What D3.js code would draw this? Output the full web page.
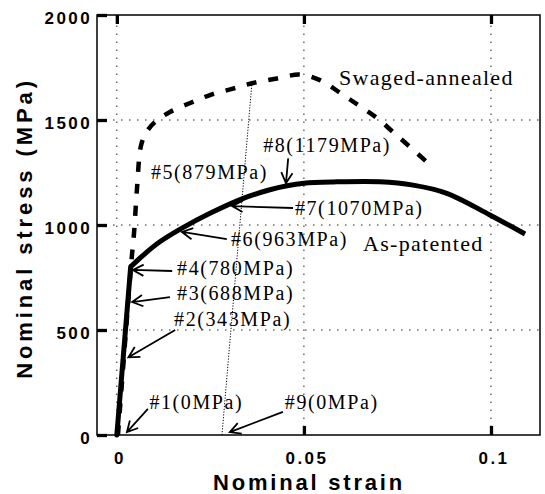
<!DOCTYPE html>
<html>
<head>
<meta charset="utf-8">
<script src="https://cdn.jsdelivr.net/npm/d3@7"></script>
<style>
    body { margin: 0; background: #fff; }
    svg { display: block; }
    .axis .tick text { font-family: "Liberation Sans", Arial, sans-serif; font-weight: bold; font-size: 17px; letter-spacing: 2.4px; fill: #000; }
    .axis-title { font-family: "Liberation Sans", Arial, sans-serif; font-weight: bold; font-size: 22px; fill: #000; }
    .note { font-family: "Liberation Serif", "Times New Roman", serif; font-size: 20px; letter-spacing: 1.6px; fill: #000; }
    .curve-name { font-family: "Liberation Serif", "Times New Roman", serif; font-size: 22px; letter-spacing: 1.3px; fill: #000; }
</style>
</head>
<body>
<svg id="chart" width="545" height="494"></svg>
<script>
// As-patented (solid) curve, first two points = elastic part
const patentedStrain = [0, 0.0037, 0.0071, 0.0115, 0.0173, 0.0249, 0.0338, 0.0409, 0.0455, 0.0500, 0.0578, 0.0703, 0.0792, 0.0882, 0.0997, 0.1091];
const patentedStress = [0, 801, 857, 920, 984, 1056, 1127, 1168, 1187, 1199, 1205, 1206, 1190, 1151, 1048, 957];

// Swaged-annealed (dashed) curve
const swagedStrain = [0.0003, 0.0040, 0.0046, 0.0054, 0.0065, 0.0080, 0.0105, 0.0142, 0.0196, 0.0249, 0.0308, 0.0364, 0.0428, 0.0490, 0.0543, 0.0597, 0.0645, 0.0695, 0.0738, 0.0784, 0.0837];
const swagedStress = [0, 848, 962, 1176, 1381, 1445, 1495, 1538, 1581, 1619, 1648, 1676, 1698, 1716, 1690, 1629, 1571, 1510, 1443, 1371, 1286];

// elastic unloading line down to #9
const unloadStrain = [0.0281, 0.0361];
const unloadStress = [0, 1676];

const xTicks = [0, 0.05, 0.1];
const xTickLabels = ["0", "0.05", "0.1"];
const yTicks = [0, 500, 1000, 1500, 2000];
const yTickLabels = ["0", "500", "1000", "1500", "2000"];

// annotations (anchored in strain / stress units)
const noteText = ["#1(0MPa)", "#2(343MPa)", "#3(688MPa)", "#4(780MPa)", "#5(879MPa)", "#6(963MPa)", "#7(1070MPa)", "#8(1179MPa)", "#9(0MPa)"];
const noteStrain = [0.0087, 0.0153, 0.0161, 0.0161, 0.0091, 0.0305, 0.0476, 0.0391, 0.0449];
const noteStress = [124, 519, 643, 762, 1219, 900, 1048, 1348, 124];

const arrowFrom = [[0.0083, 124], [0.0156, 500], [0.0142, 657], [0.0148, 781], [0.0294, 933], [0.0471, 1081], [0.0458, 1317], [0.0444, 110]];
const arrowTo = [[0.0027, 14], [0.0031, 370], [0.0041, 633], [0.0043, 786], [0.0174, 967], [0.0308, 1090], [0.0452, 1199], [0.0302, 14]];

const curveNames = ["Swaged-annealed", "As-patented"];
const curveNameStrain = [0.0594, 0.0658];
const curveNameStress = [1667, 876];

const width = 545, height = 494;
const marginLeft = 97, marginRight = 5, marginTop = 15, marginBottom = 59;

const svg = d3.select("#chart");

const x = d3.scaleLinear().domain([-0.0053, 0.1131]).range([marginLeft, width - marginRight]);
const y = d3.scaleLinear().domain([0, 2000]).range([height - marginBottom, marginTop]);

// dotted grid
svg.append("g")
    .selectAll("line")
    .data(xTicks)
    .join("line")
    .attr("x1", d => x(d)).attr("x2", d => x(d))
    .attr("y1", y(0)).attr("y2", y(2000))
    .attr("stroke", "#222")
    .attr("stroke-width", 1)
    .attr("stroke-dasharray", "1.5,6.5");

svg.append("g")
    .selectAll("line")
    .data(yTicks.slice(1, -1))
    .join("line")
    .attr("x1", x.range()[0]).attr("x2", x.range()[1])
    .attr("y1", d => y(d)).attr("y2", d => y(d))
    .attr("stroke", "#222")
    .attr("stroke-width", 1)
    .attr("stroke-dasharray", "1.5,6.5");

// unloading line
svg.append("path")
    .datum(unloadStrain.map((s, i) => [s, unloadStress[i]]))
    .attr("d", d3.line().x(d => x(d[0])).y(d => y(d[1])))
    .attr("fill", "none")
    .attr("stroke", "#000")
    .attr("stroke-width", 1)
    .attr("stroke-dasharray", "1.2,1.6");

// swaged-annealed
svg.append("path")
    .datum(swagedStrain.map((s, i) => [s, swagedStress[i]]))
    .attr("d", d3.line().x(d => x(d[0])).y(d => y(d[1])).curve(d3.curveCatmullRom.alpha(0.5)))
    .attr("fill", "none")
    .attr("stroke", "#000")
    .attr("stroke-width", 4.5)
    .attr("stroke-dasharray", "10,12");

// as-patented
const patented = patentedStrain.map((s, i) => [s, patentedStress[i]]);
svg.append("path")
    .datum(patented.slice(0, 2))
    .attr("d", d3.line().x(d => x(d[0])).y(d => y(d[1])))
    .attr("fill", "none")
    .attr("stroke", "#000")
    .attr("stroke-width", 5)
    .attr("stroke-linecap", "round");

svg.append("path")
    .datum(patented.slice(1))
    .attr("d", d3.line().x(d => x(d[0])).y(d => y(d[1])).curve(d3.curveCatmullRom.alpha(0.5)))
    .attr("fill", "none")
    .attr("stroke", "#000")
    .attr("stroke-width", 5)
    .attr("stroke-linejoin", "round");

// box
svg.append("rect")
    .attr("x", x.range()[0]).attr("y", y.range()[1])
    .attr("width", x.range()[1] - x.range()[0])
    .attr("height", y.range()[0] - y.range()[1])
    .attr("fill", "none")
    .attr("stroke", "#000")
    .attr("stroke-width", 1.5);

// axes, ticks inside
const yAxis = svg.append("g")
    .attr("class", "axis")
    .attr("transform", `translate(${marginLeft},0)`)
    .call(d3.axisLeft(y).tickValues(yTicks).tickSize(-10).tickPadding(5).tickFormat((d, i) => yTickLabels[i]));
yAxis.select(".domain").remove();
yAxis.selectAll(".tick line").attr("stroke-width", 3.3);
yAxis.selectAll(".tick text").attr("dy", "0.5em");

const xAxis = svg.append("g")
    .attr("class", "axis")
    .attr("transform", `translate(0,${height - marginBottom})`)
    .call(d3.axisBottom(x).tickValues(xTicks).tickSize(-9).tickPadding(17).tickFormat((d, i) => xTickLabels[i]));
xAxis.select(".domain").remove();
xAxis.selectAll(".tick line").attr("stroke-width", 3.3);
xAxis.selectAll(".tick text").attr("dx", 2.5);

const topAxis = svg.append("g")
    .attr("class", "axis")
    .attr("transform", `translate(0,${marginTop})`)
    .call(d3.axisTop(x).tickValues(xTicks).tickSize(-9).tickFormat(""));
topAxis.select(".domain").remove();
topAxis.selectAll(".tick line").attr("stroke-width", 3.3);

// axis titles
svg.append("text")
    .attr("class", "axis-title")
    .attr("x", 309)
    .attr("y", 490)
    .attr("text-anchor", "middle")
    .style("letter-spacing", "2.8px")
    .text("Nominal strain");

svg.append("text")
    .attr("class", "axis-title")
    .attr("transform", `translate(32, ${(y.range()[0] + y.range()[1]) / 2 + 3}) rotate(-90)`)
    .attr("text-anchor", "middle")
    .style("letter-spacing", "3.9px")
    .text("Nominal stress (MPa)");

// notes
svg.append("g")
    .selectAll("text")
    .data(noteText)
    .join("text")
    .attr("class", "note")
    .attr("x", (d, i) => x(noteStrain[i]))
    .attr("y", (d, i) => y(noteStress[i]))
    .text(d => d);

svg.append("g")
    .selectAll("text")
    .data(curveNames)
    .join("text")
    .attr("class", "curve-name")
    .attr("x", (d, i) => x(curveNameStrain[i]))
    .attr("y", (d, i) => y(curveNameStress[i]))
    .text(d => d);

// arrows with open heads
const arrows = svg.append("g")
    .attr("stroke", "#000")
    .attr("stroke-width", 1.8)
    .attr("fill", "none");

arrowFrom.forEach((from, i) => {
    const x1 = x(from[0]), y1 = y(from[1]);
    const x2 = x(arrowTo[i][0]), y2 = y(arrowTo[i][1]);
    const ang = Math.atan2(y2 - y1, x2 - x1);
    const len = 12, spread = 28 * Math.PI / 180;
    const a1 = [x2 - len * Math.cos(ang - spread), y2 - len * Math.sin(ang - spread)];
    const a2 = [x2 - len * Math.cos(ang + spread), y2 - len * Math.sin(ang + spread)];
    arrows.append("path")
        .attr("d", `M${x1},${y1}L${x2},${y2}M${a1[0]},${a1[1]}L${x2},${y2}L${a2[0]},${a2[1]}`);
});
</script>
</body>
</html>
